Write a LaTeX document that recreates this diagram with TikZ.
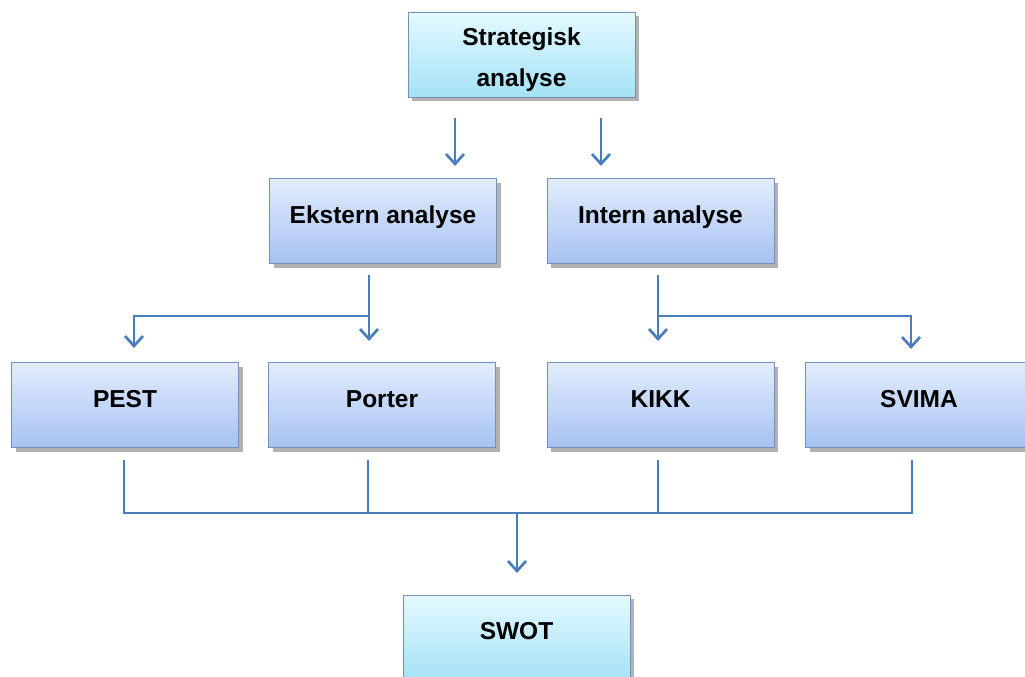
\documentclass[tikz,border=0pt]{standalone}
\usepackage{fontspec}
\setmainfont{Liberation Sans}
\usetikzlibrary{arrows.meta,shadows}

\definecolor{linkblue}{HTML}{4A7EBB}
\definecolor{boxedge}{HTML}{7590B8}
\definecolor{bluetop}{HTML}{E2ECFC}
\definecolor{bluebot}{HTML}{A6C2F2}
\definecolor{cyantop}{HTML}{E4F9FE}
\definecolor{cyanbot}{HTML}{A4E2F6}

\begin{document}
\begin{tikzpicture}[x=1pt,y=-1pt,
  labelfont/.style={font=\fontsize{24.5}{41}\selectfont\bfseries},
  box/.style={draw=boxedge, line width=0.8pt, minimum width=227pt,
    minimum height=85pt, inner sep=0pt, align=center, labelfont,
    drop shadow={shadow xshift=4pt, shadow yshift=-4pt, fill=black!55, opacity=0.55}},
  oneline/.style={text height=18pt, text depth=14pt},
  bluebox/.style={box, oneline, top color=bluetop, bottom color=bluebot},
  cyanbox/.style={box, top color=cyantop, bottom color=cyanbot},
  conn/.style={draw=linkblue, line width=2.7pt},
  arr/.style={conn, -{Straight Barb[length=10pt,width=18pt]}}]

\useasboundingbox (0,0) rectangle (1025,677);
\clip (0,0) rectangle (1025,677);
\fill[white] (0,0) rectangle (1025,677);

% boxes
\node[cyanbox] (strat) at (521.5,54.5) {};
\node[labelfont, align=center, inner sep=0pt] (strattext) at (521.5,59.5) {Strategisk\\analyse};
\node[bluebox] (ext) at (383,221) {Ekstern analyse};
\node[bluebox] (int) at (660.5,221) {Intern analyse};
\node[bluebox] (pest) at (125,405) {PEST};
\node[bluebox] (porter) at (382,405) {Porter};
\node[bluebox] (kikk) at (660.5,405) {KIKK};
\node[bluebox] (svima) at (919,405) {SVIMA};
\node[cyanbox, oneline] (swot) at (516.5,637.5) {SWOT};

% connector end points
\coordinate (sa1) at (455,118); \coordinate (sb1) at (455,166);
\coordinate (sa2) at (601,118); \coordinate (sb2) at (601,166);
\coordinate (ea) at (369,275);  \coordinate (eb) at (369,341);
\coordinate (ej) at (369,316);  \coordinate (el) at (134,348);
\coordinate (ia) at (658,275);  \coordinate (ib) at (658,341);
\coordinate (ij) at (658,316);  \coordinate (ir) at (911,349);
\coordinate (p1) at (124,460);  \coordinate (p2) at (368,460);
\coordinate (p3) at (658,460);  \coordinate (p4) at (912,460);
\coordinate (m) at (517,513);   \coordinate (mb) at (517,573);

% strategic level
\draw[arr] (sa1) -- (sb1);
\draw[arr] (sa2) -- (sb2);

% external branch
\draw[arr] (ea) -- (eb);
\draw[arr] (ej) -| (el);

% internal branch
\draw[arr] (ia) -- (ib);
\draw[arr] (ij) -| (ir);

% collector into SWOT
\draw[conn] (p1) |- (m) -| (p4);
\draw[conn] (p2) -- (p2 |- m);
\draw[conn] (p3) -- (p3 |- m);
\draw[arr] (m) -- (mb);
\end{tikzpicture}
\end{document}
